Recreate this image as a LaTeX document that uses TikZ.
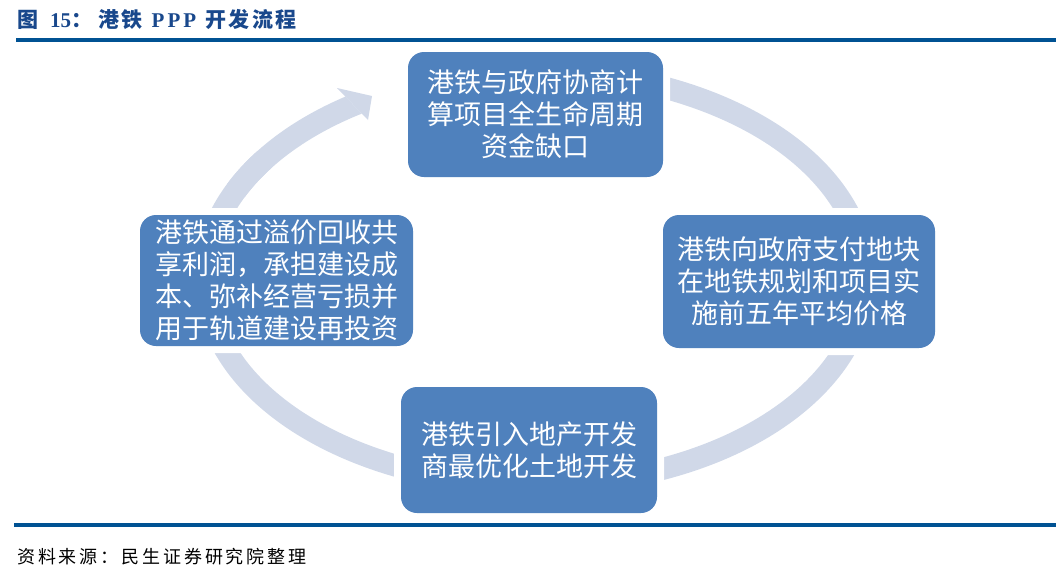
\documentclass[tikz,border=0pt]{standalone}
\usepackage{fontspec}
\setmainfont{Liberation Serif}
\newfontfamily\cjk{Noto Sans CJK SC}
\newfontfamily\cjkt{Noto Sans CJK SC}[LetterSpace=12]
\newfontfamily\cjksrc{Noto Sans CJK SC}[LetterSpace=16]
\newfontfamily\titlelat{Liberation Serif}
\definecolor{boxblue}{RGB}{79,129,189}
\definecolor{ringc}{RGB}{208,216,232}
\definecolor{titleblue}{RGB}{25,72,140}
\definecolor{rulec}{RGB}{0,82,147}
\tikzset{
  stagebox/.style={fill=boxblue, preaction={draw=white, line width=14pt},
    rounded corners=16pt, text=white, align=center, inner sep=0pt,
    font=\cjk\fontsize{27}{32}\selectfont},
  ringline/.style={draw=ringc, line width=22pt},
  rulebar/.style={draw=rulec, line width=4pt}
}
\begin{document}
\begin{tikzpicture}[x=1pt,y=-1pt]
\useasboundingbox (0,0) rectangle (1061,574);
% title and rules
\node[anchor=west, text=titleblue, inner sep=0pt, font=\fontsize{21}{25}\selectfont] (title) at (17,20)
  {\cjkt\bfseries 图\hspace{12pt}{\titlelat\bfseries 15}：\hspace{6pt}港铁\hspace{9pt}{\titlelat\bfseries P\kern3pt P\kern3pt P}\hspace{9pt}开发流程};
\coordinate (r1a) at (16,40);
\coordinate (r1b) at (1056,40);
\draw[rulebar] (r1a) -- (r1b);
\coordinate (r2a) at (14,525);
\coordinate (r2b) at (1056,525);
\draw[rulebar, line width=3.5pt] (r2a) -- (r2b);
\node[anchor=west, inner sep=0pt, text=black] (src) at (17,557)
  {\cjksrc\fontsize{18}{22}\selectfont 资料来源：民生证券研究院整理};
% ring
\coordinate (c) at (535,278);
\draw[ringline] (c) ++(-110:330 and 207) arc[start angle=-110, end angle=215, x radius=330, y radius=207];
\begin{scope}
  \clip (321.5,72) -- (383.5,136) -- (233.5,236) -- (171.5,172) -- cycle;
  \draw[ringline] (c) ++(205:330 and 207) arc[start angle=205, end angle=245, x radius=330, y radius=207];
\end{scope}
\fill[ringc] (337,88) -- (372,96) -- (368,120) -- cycle;
% boxes
\node[stagebox, minimum width=255pt, minimum height=125pt] (top) at (535.5,114.5)
  {港铁与政府协商计\\算项目全生命周期\\资金缺口};
\node[stagebox, minimum width=272pt, minimum height=133pt] (right) at (799,281.5)
  {港铁向政府支付地块\\在地铁规划和项目实\\施前五年平均价格};
\node[stagebox, minimum width=256pt, minimum height=126pt] (bottom) at (529,450)
  {港铁引入地产开发\\商最优化土地开发};
\node[stagebox, minimum width=273pt, minimum height=131pt] (left) at (276.5,280.5)
  {港铁通过溢价回收共\\享利润，承担建设成\\本、弥补经营亏损并\\用于轨道建设再投资};
\end{tikzpicture}
\end{document}
